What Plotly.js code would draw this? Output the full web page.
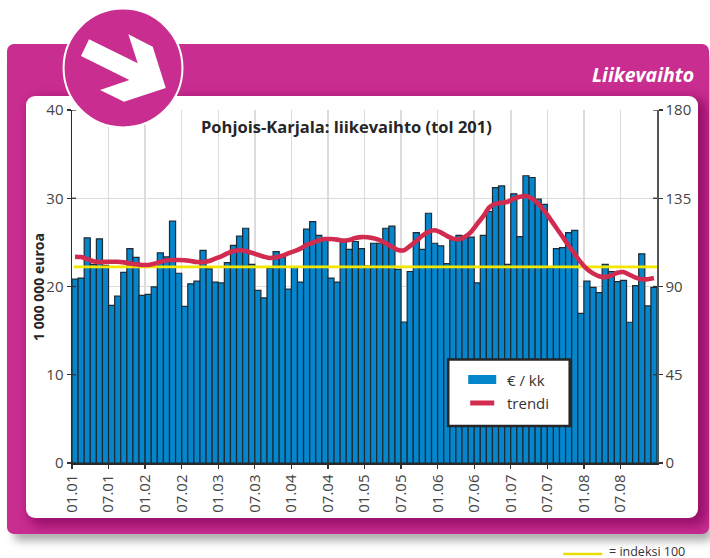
<!DOCTYPE html>
<html>
<head>
<meta charset="utf-8">
<script src="https://cdn.plot.ly/plotly-3.0.1.min.js"></script>
<style>
html,body{margin:0;padding:0;background:#fff;width:710px;height:558px;overflow:hidden}
#card{position:absolute;left:7px;top:44px;width:702px;height:490px;background:#C92D90;border-radius:7px;box-shadow:5px 9px 9px -2px rgba(0,0,0,.32);overflow:hidden}
#panel{position:absolute;left:19px;top:52px;width:672px;height:422px;background:#fff;border-radius:9px;box-shadow:6px 5px 12px 3px #98106A}
#chart{position:absolute;left:0;top:0;width:710px;height:558px}
</style>
</head>
<body>
<div id="card"><div id="panel"></div></div>
<div id="chart"></div>
<script>
// monthly turnover, 1 000 000 euro, 01.2001 - 12.2008
const euroPerMonth = [
  20.85,20.96,25.5,22.5,25.4,22.4,17.85,18.9,21.6,24.3,23.3,19.0,
  19.1,19.95,23.8,23.35,27.4,21.5,17.75,20.3,20.6,24.1,22.0,20.5,
  20.4,22.7,24.65,25.7,26.6,22.5,19.55,18.7,22.1,23.95,23.3,19.7,
  22.25,20.5,26.5,27.35,25.8,25.3,20.95,20.5,25.1,24.2,25.1,24.3,
  22.3,24.9,24.9,26.6,26.85,21.95,15.98,21.7,26.1,24.2,28.3,24.9,
  24.6,22.6,25.3,25.8,25.6,25.6,20.4,25.8,28.5,31.2,31.4,22.5,
  30.5,25.65,32.55,32.35,29.9,29.3,22.1,24.3,24.4,26.1,26.35,16.95,
  20.6,19.9,19.3,22.5,21.7,20.55,20.7,15.95,20.1,23.7,17.8,19.9];
// trend on the index scale (right axis)
const trendIndex = [
  105.2,105.0,104.0,102.9,102.5,102.6,102.6,102.6,102.3,101.8,101.3,101.0,
  101.0,101.6,102.6,103.4,103.5,103.5,103.4,103.0,102.5,102.5,103.0,104.2,
  105.4,106.9,108.1,108.5,108.1,107.2,106.2,105.2,104.5,104.9,105.7,106.9,
  108.0,109.3,111.2,112.3,113.6,114.2,114.2,113.9,113.4,113.7,114.7,115.2,
  115.1,114.6,113.6,112.0,110.3,108.6,108.5,110.7,113.2,115.9,117.9,118.7,
  117.6,115.8,114.4,114.1,115.4,117.9,121.9,125.9,130.4,132.1,132.7,133.2,
  134.8,135.8,136.1,134.8,132.2,128.7,124.3,119.8,115.4,110.8,106.6,102.3,
  98.9,96.7,95.2,94.8,95.7,97.0,97.4,96.0,94.5,93.7,93.7,94.3];
const tickLabels = ["01.01","07.01","01.02","07.02","01.03","07.03","01.04","07.04",
  "01.05","07.05","01.06","07.06","01.07","07.07","01.08","07.08"];
const leftTicks = [0,10,20,30,40];
const rightTicks = [0,45,90,135,180];
const indexLevel = [100,100];
const indexSpan = [0.3,96];
const chartTitle = "Pohjois-Karjala: liikevaihto (tol 201)";
const yTitle = "1 000 000 euroa";
const headerText = "Liikevaihto";
const legendBar = "€ / kk";
const legendTrend = "trendi";
const indexNote = "= indeksi 100";

const W=710,H=558,L=72,R=656.7,T=110,B=463;
const px=x=>(x-L)/(R-L), py=y=>(B-y)/(B-T);
const months=euroPerMonth.map((_,i)=>i+0.5);
const tickPos=tickLabels.map((_,i)=>i*6);
const FONT='"Open Sans", sans-serif';
const arrow=[[89,39.3],[137.7,63.3],[128.3,34.3],[152.7,46.7],[165.7,88],[124,101.7],[100,90],[129.3,80],[81,56]];
const arrowPath='M'+arrow.map(p=>px(p[0]).toFixed(5)+','+py(p[1]).toFixed(5)).join(' L')+' Z';

const shapes=[];
const inTick={type:'line',line:{color:'#333',width:1.3},layer:'above'};
leftTicks.forEach(v=>shapes.push({...inTick,xref:'paper',yref:'y',xsizemode:'pixel',xanchor:0,x0:0,x1:4,y0:v,y1:v}));
rightTicks.forEach(v=>shapes.push({...inTick,xref:'paper',yref:'y2',xsizemode:'pixel',xanchor:1,x0:0,x1:-4,y0:v,y1:v}));
tickPos.forEach(v=>shapes.push({...inTick,xref:'x',yref:'paper',ysizemode:'pixel',yanchor:0,x0:v,x1:v,y0:0,y1:4}));
// round badge with arrow
shapes.push({type:'circle',xref:'paper',yref:'paper',layer:'above',x0:px(63.6),x1:px(182.4),y0:py(127.4),y1:py(8.6),fillcolor:'#C92D90',line:{color:'#fff',width:2}});
shapes.push({type:'path',xref:'paper',yref:'paper',layer:'above',path:arrowPath,fillcolor:'#fff',line:{width:0}});
// legend box and keys
shapes.push({type:'rect',xref:'paper',yref:'paper',layer:'above',x0:px(448),x1:px(569.5),y0:py(426),y1:py(359.5),fillcolor:'#fff',line:{color:'#262626',width:2.6}});
shapes.push({type:'rect',xref:'paper',yref:'paper',layer:'above',x0:px(468),x1:px(496),y0:py(384),y1:py(375),fillcolor:'#0585CB',line:{width:0}});
shapes.push({type:'line',xref:'paper',yref:'paper',layer:'above',x0:px(470),x1:px(494),y0:py(403),y1:py(403),line:{color:'#D22B50',width:5}});
// index key below the card
shapes.push({type:'line',xref:'paper',yref:'paper',layer:'above',x0:px(563),x1:px(602),y0:py(554),y1:py(554),line:{color:'#EBDD00',width:2.5}});

const note=(text,x,y,size,extra)=>Object.assign({text,xref:'paper',yref:'paper',x:px(x),y:py(y),showarrow:false,
  xanchor:'left',yanchor:'middle',font:{family:FONT,size,color:'#333'}},extra||{});
const annotations=[
  note('<b>'+chartTitle+'</b>',346.5,126,16,{xanchor:'center',font:{family:FONT,size:16.5,color:'#262626'}}),
  note('<b><i>'+headerText+'</i></b>',696,75,19.5,{xanchor:'right',font:{family:FONT,size:19.5,color:'#fff'}}),
  note('<b>'+yTitle+'</b>',38,287,14,{xanchor:'center',textangle:-90,font:{family:FONT,size:14,color:'#262626'}}),
  note(legendBar,505,380,15),
  note(legendTrend,505,403,15),
  note(indexNote,607,551,12.5)
];

const axisFont={family:FONT,size:15,color:'#444'};
const data=[
 {type:'bar',x:months,y:euroPerMonth,width:1,name:legendBar,marker:{color:'#0585CB',line:{color:'#1d2a33',width:1.2}},hoverinfo:'y'},
 {type:'scatter',mode:'lines',x:indexSpan,y:indexLevel,yaxis:'y2',line:{color:'#F2E500',width:2.6},name:'indeksi 100',hoverinfo:'skip'},
 {type:'scatter',mode:'lines',x:months,y:trendIndex,yaxis:'y2',line:{color:'#D22B50',width:4.6,shape:'spline',smoothing:0.8},name:legendTrend,hoverinfo:'y'}
];
const layout={
  width:W,height:H,autosize:false,showlegend:false,
  paper_bgcolor:'rgba(0,0,0,0)',plot_bgcolor:'rgba(0,0,0,0)',
  margin:{l:L,r:W-R,t:T,b:H-B,pad:0},bargap:0,
  xaxis:{range:[0,96],tickmode:'array',tickvals:tickPos,ticktext:tickLabels,tickangle:-90,ticks:'outside',ticklen:4,tickwidth:1.3,tickcolor:'#333',
    showgrid:true,gridcolor:'#dcdcdc',gridwidth:1.5,showline:true,linecolor:'#2a2a2a',linewidth:1.5,zeroline:false,tickfont:axisFont},
  yaxis:{range:[0,40],tickmode:'array',tickvals:leftTicks,ticks:'outside',ticklen:4,tickwidth:1.3,tickcolor:'#333',
    showgrid:true,gridcolor:'#dcdcdc',gridwidth:1.5,showline:true,linecolor:'#2a2a2a',linewidth:1.5,zeroline:false,tickfont:axisFont},
  yaxis2:{range:[0,180],overlaying:'y',side:'right',tickmode:'array',tickvals:rightTicks,ticks:'outside',ticklen:4,tickwidth:1.3,tickcolor:'#333',
    showgrid:false,showline:true,linecolor:'#555',linewidth:1.5,zeroline:false,tickfont:axisFont},
  shapes,annotations
};
Plotly.newPlot('chart',data,layout,{displayModeBar:false,staticPlot:true});
</script>
</body>
</html>
